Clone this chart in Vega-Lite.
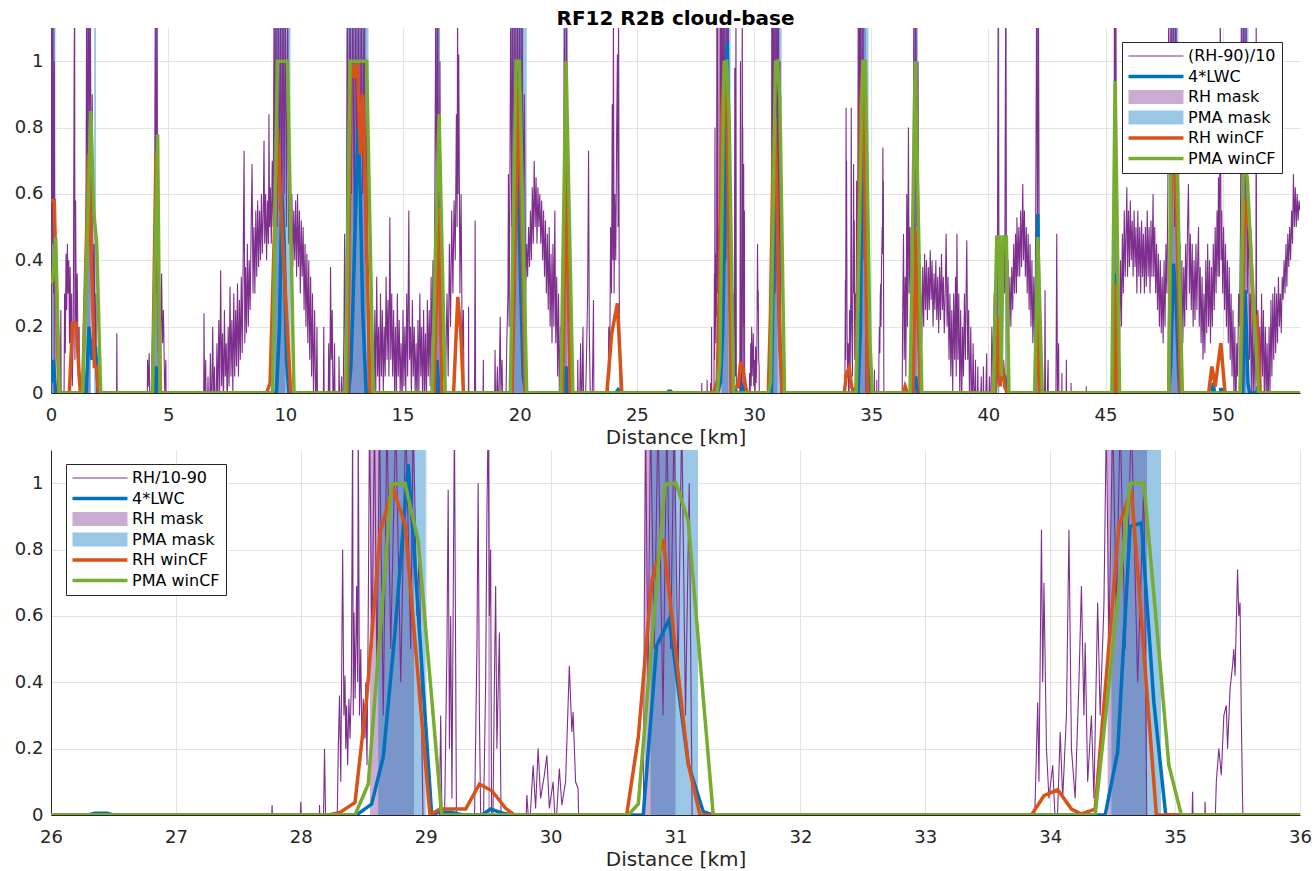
{
"$schema": "https://vega.github.io/schema/vega-lite/v6.json",
"background": "white",
"padding": {"left": 14, "top": 9, "right": 5, "bottom": 1},
"spacing": 3,
"config": {
  "font": "DejaVu Sans",
  "view": {"stroke": null},
  "axis": {"labelFont": "DejaVu Sans", "labelFontSize": 18, "labelColor": "#262626", "titleFont": "DejaVu Sans", "titleFontSize": 20, "titleFontWeight": "normal", "titleColor": "#262626", "domainColor": "#262626", "tickColor": "#262626", "ticks": false, "gridColor": "#e3e3e3", "labelOverlap": false, "labelFlush": false, "titlePadding": 3},
  "legend": {"labelFont": "DejaVu Sans", "labelFontSize": 16, "labelColor": "#000000", "padding": 6, "strokeColor": "#262626", "fillColor": "#ffffff", "labelLimit": 400, "symbolSize": 225, "labelOffset": 44, "rowPadding": 4.5, "symbolStrokeWidth": 0,
    "symbolType": {"expr": "indexof(datum.value,'mask') >= 0 ? 'M-1,-0.93H6.33V0.93H-1Z' : indexof(datum.value,'90') >= 0 ? 'M-1,-0.07H6.33V0.07H-1Z' : 'M-1,-0.24H6.33V0.24H-1Z'"}
  }
},
"resolve": {"scale": {"color": "independent", "x": "independent"}, "legend": {"color": "independent"}},
"datasets": {
"rh": [
{"x":0,"v":0.32},{"x":0.02,"v":1.2},{"x":0.05,"v":0.45},{"x":0.08,"v":1.2},{"x":0.11,"v":0.3},{"x":0.14,"v":1.0},{"x":0.17,"v":0.1},{"x":0.2,"v":-0.3},
{"x":0.38,"v":-0.3},{"x":0.42,"v":0.25},{"x":0.45,"v":-0.3},
{"x":0.55,"v":-0.1},{"x":0.58,"v":0.3},{"x":0.61,"v":0.12},{"x":0.64,"v":0.42},{"x":0.67,"v":0.25},{"x":0.7,"v":0.45},{"x":0.73,"v":0.3},{"x":0.76,"v":0.4},{"x":0.79,"v":0.15},{"x":0.82,"v":0.38},{"x":0.85,"v":0.05},{"x":0.88,"v":0.3},{"x":0.91,"v":0.02},{"x":0.95,"v":0.2},{"x":0.99,"v":1.02},{"x":1.01,"v":1.2},{"x":1.02,"v":0.1},{"x":1.05,"v":0.58},{"x":1.08,"v":0.18},{"x":1.12,"v":0.36},{"x":1.16,"v":0.05},{"x":1.2,"v":0.2},{"x":1.24,"v":-0.3},
{"x":1.4,"v":-0.3},{"x":1.44,"v":0.4},{"x":1.48,"v":0.2},{"x":1.52,"v":1.2},{"x":1.56,"v":0.6},{"x":1.6,"v":1.2},{"x":1.64,"v":0.8},{"x":1.68,"v":1.2},{"x":1.72,"v":0.5},{"x":1.76,"v":0.9},{"x":1.8,"v":0.2},{"x":1.84,"v":0.45},{"x":1.88,"v":0.1},{"x":1.92,"v":0.3},{"x":1.96,"v":-0.3},
{"x":2.78,"v":-0.3},{"x":2.81,"v":0.18},{"x":2.84,"v":-0.3},
{"x":4.08,"v":-0.3},{"x":4.12,"v":0.1},{"x":4.15,"v":0.02},{"x":4.19,"v":0.12},{"x":4.23,"v":-0.1},{"x":4.3,"v":-0.3},{"x":4.36,"v":0.2},{"x":4.4,"v":0.05},{"x":4.45,"v":1.2},{"x":4.48,"v":0.3},{"x":4.52,"v":1.2},{"x":4.56,"v":0.2},{"x":4.6,"v":0.0},{"x":4.64,"v":0.3},{"x":4.68,"v":0.1},{"x":4.72,"v":0.36},{"x":4.76,"v":0.15},{"x":4.8,"v":0.25},{"x":4.85,"v":0.0},{"x":4.9,"v":0.1},{"x":4.95,"v":-0.3},
{"x":6.5,"v":-0.3},{"x":6.53,"v":0.24},{"x":6.56,"v":-0.1},{"x":6.6,"v":0.1},{"x":6.64,"v":-0.2},{"x":6.7,"v":0.05},{"x":6.75,"v":-0.2},{"x":6.8,"v":0.12},{"x":6.85,"v":-0.1},{"x":6.9,"v":0.2},{"x":6.94,"v":-0.05},{"x":6.98,"v":0.08},{"x":7.02,"v":-0.2},{"x":7.08,"v":0.15},{"x":7.12,"v":-0.05},{"x":7.16,"v":0.22},{"x":7.2,"v":0.0},{"x":7.24,"v":0.37},{"x":7.28,"v":0.02},{"x":7.32,"v":0.18},{"x":7.36,"v":-0.05},{"x":7.4,"v":0.25},{"x":7.44,"v":0.05},{"x":7.48,"v":0.15},{"x":7.52,"v":-0.05},{"x":7.56,"v":0.2},{"x":7.6,"v":0.02},{"x":7.64,"v":0.32},{"x":7.68,"v":0.05},{"x":7.72,"v":0.22},{"x":7.76,"v":0.0},{"x":7.8,"v":0.3},{"x":7.84,"v":0.05},{"x":7.88,"v":0.25},{"x":7.92,"v":0.08},{"x":7.96,"v":0.33},{"x":8.0,"v":0.05},{"x":8.04,"v":0.28},{"x":8.08,"v":0.1},{"x":8.12,"v":0.35},{"x":8.16,"v":0.12},{"x":8.2,"v":0.4},{"x":8.24,"v":0.73},{"x":8.27,"v":0.15},{"x":8.3,"v":0.38},{"x":8.34,"v":0.18},{"x":8.38,"v":0.45},{"x":8.42,"v":0.2},{"x":8.46,"v":0.4},{"x":8.5,"v":0.25},{"x":8.54,"v":0.5},{"x":8.58,"v":0.69},{"x":8.62,"v":0.3},{"x":8.66,"v":0.5},{"x":8.7,"v":0.3},{"x":8.74,"v":0.55},{"x":8.78,"v":0.35},{"x":8.82,"v":0.58},{"x":8.86,"v":0.38},{"x":8.9,"v":0.55},{"x":8.94,"v":0.4},{"x":8.98,"v":0.6},{"x":9.02,"v":0.42},{"x":9.06,"v":0.55},{"x":9.09,"v":0.76},{"x":9.12,"v":0.45},{"x":9.16,"v":0.6},{"x":9.2,"v":0.4},{"x":9.24,"v":0.58},{"x":9.28,"v":0.45},{"x":9.3,"v":0.84},{"x":9.33,"v":0.5},{"x":9.36,"v":0.62},{"x":9.4,"v":0.45},{"x":9.44,"v":0.7},{"x":9.48,"v":0.5},{"x":9.52,"v":1.2},{"x":9.56,"v":0.6},{"x":9.6,"v":1.2},{"x":9.65,"v":0.5},{"x":9.7,"v":1.2},{"x":9.75,"v":0.55},{"x":9.8,"v":1.2},{"x":9.85,"v":0.5},{"x":9.9,"v":1.2},{"x":9.95,"v":0.6},{"x":10.0,"v":1.2},{"x":10.05,"v":0.5},{"x":10.1,"v":1.2},{"x":10.15,"v":0.45},{"x":10.2,"v":0.65},{"x":10.24,"v":0.4},{"x":10.28,"v":0.6},{"x":10.32,"v":0.38},{"x":10.36,"v":0.55},{"x":10.4,"v":0.4},{"x":10.44,"v":0.58},{"x":10.48,"v":0.35},{"x":10.52,"v":0.6},{"x":10.56,"v":0.38},{"x":10.6,"v":0.55},{"x":10.64,"v":0.3},{"x":10.68,"v":0.52},{"x":10.72,"v":0.35},{"x":10.76,"v":0.5},{"x":10.8,"v":0.25},{"x":10.84,"v":0.45},{"x":10.88,"v":0.2},{"x":10.92,"v":0.42},{"x":10.96,"v":0.15},{"x":11.0,"v":0.4},{"x":11.04,"v":0.1},{"x":11.08,"v":0.35},{"x":11.12,"v":0.05},{"x":11.16,"v":0.3},{"x":11.2,"v":0.0},{"x":11.25,"v":0.25},{"x":11.3,"v":-0.1},{"x":11.35,"v":0.2},{"x":11.4,"v":-0.3},
{"x":11.6,"v":-0.3},{"x":11.64,"v":0.2},{"x":11.68,"v":-0.3},{"x":11.8,"v":-0.3},{"x":11.85,"v":0.15},{"x":11.89,"v":-0.1},{"x":11.93,"v":0.38},{"x":11.96,"v":0.1},{"x":12.0,"v":0.25},{"x":12.04,"v":-0.1},{"x":12.1,"v":0.15},{"x":12.15,"v":-0.3},{"x":12.26,"v":-0.3},{"x":12.29,"v":0.11},{"x":12.33,"v":-0.1},{"x":12.4,"v":0.05},{"x":12.45,"v":-0.1},{"x":12.5,"v":0.18},{"x":12.53,"v":0.48},{"x":12.56,"v":0.1},{"x":12.6,"v":0.3},{"x":12.64,"v":1.2},{"x":12.7,"v":0.5},{"x":12.76,"v":1.2},{"x":12.82,"v":0.6},{"x":12.88,"v":1.2},{"x":12.94,"v":0.5},{"x":13.0,"v":1.2},{"x":13.06,"v":0.6},{"x":13.12,"v":1.2},{"x":13.18,"v":0.5},{"x":13.24,"v":1.2},{"x":13.3,"v":0.6},{"x":13.36,"v":1.2},{"x":13.42,"v":0.4},{"x":13.48,"v":1.0},{"x":13.52,"v":0.2},{"x":13.56,"v":-0.3},
{"x":13.7,"v":-0.3},{"x":13.74,"v":0.15},{"x":13.78,"v":-0.1},{"x":13.82,"v":0.25},{"x":13.86,"v":0.0},{"x":13.9,"v":0.35},{"x":13.94,"v":0.05},{"x":13.98,"v":0.2},{"x":14.02,"v":-0.05},{"x":14.06,"v":0.3},{"x":14.1,"v":0.05},{"x":14.14,"v":0.25},{"x":14.18,"v":0.0},{"x":14.22,"v":0.2},{"x":14.26,"v":0.05},{"x":14.3,"v":0.35},{"x":14.34,"v":0.1},{"x":14.38,"v":0.28},{"x":14.42,"v":0.05},{"x":14.46,"v":0.53},{"x":14.5,"v":0.1},{"x":14.54,"v":0.3},{"x":14.58,"v":0.05},{"x":14.62,"v":0.25},{"x":14.66,"v":0.0},{"x":14.7,"v":0.2},{"x":14.74,"v":-0.05},{"x":14.78,"v":0.3},{"x":14.82,"v":0.05},{"x":14.86,"v":0.22},{"x":14.9,"v":0.0},{"x":14.94,"v":0.15},{"x":14.98,"v":-0.05},{"x":15.02,"v":0.25},{"x":15.06,"v":0.02},{"x":15.1,"v":0.2},{"x":15.14,"v":0.0},{"x":15.18,"v":0.3},{"x":15.22,"v":0.05},{"x":15.27,"v":0.55},{"x":15.3,"v":0.1},{"x":15.34,"v":0.2},{"x":15.38,"v":0.0},{"x":15.42,"v":0.28},{"x":15.46,"v":0.05},{"x":15.5,"v":0.2},{"x":15.54,"v":0.0},{"x":15.58,"v":0.15},{"x":15.62,"v":-0.05},{"x":15.66,"v":0.22},{"x":15.7,"v":0.0},{"x":15.74,"v":0.3},{"x":15.78,"v":0.05},{"x":15.82,"v":0.2},{"x":15.86,"v":-0.05},{"x":15.9,"v":0.25},{"x":15.94,"v":0.0},{"x":15.98,"v":0.18},{"x":16.02,"v":-0.05},{"x":16.06,"v":0.28},{"x":16.1,"v":0.05},{"x":16.14,"v":0.25},{"x":16.18,"v":0.02},{"x":16.22,"v":0.35},{"x":16.26,"v":0.1},{"x":16.3,"v":0.4},{"x":16.34,"v":0.2},{"x":16.38,"v":0.6},{"x":16.42,"v":1.2},{"x":16.46,"v":0.4},{"x":16.5,"v":1.2},{"x":16.55,"v":0.3},{"x":16.6,"v":1.0},{"x":16.64,"v":0.1},{"x":16.68,"v":-0.3},
{"x":16.8,"v":-0.3},{"x":16.85,"v":0.1},{"x":16.9,"v":0.3},{"x":16.95,"v":0.05},{"x":17.0,"v":0.45},{"x":17.05,"v":0.2},{"x":17.1,"v":0.55},{"x":17.15,"v":0.3},{"x":17.2,"v":0.58},{"x":17.25,"v":0.4},{"x":17.3,"v":0.84},{"x":17.33,"v":0.5},{"x":17.35,"v":1.2},{"x":17.37,"v":0.6},{"x":17.4,"v":1.02},{"x":17.45,"v":0.3},{"x":17.5,"v":0.6},{"x":17.55,"v":0.1},{"x":17.6,"v":0.25},{"x":17.65,"v":-0.3},
{"x":17.8,"v":-0.3},{"x":17.82,"v":0.26},{"x":17.84,"v":-0.3},{"x":18.06,"v":-0.3},{"x":18.1,"v":0.52},{"x":18.13,"v":-0.3},{"x":18.4,"v":-0.3},{"x":18.45,"v":0.1},{"x":18.48,"v":-0.3},{"x":18.9,"v":-0.3},{"x":18.95,"v":0.13},{"x":18.98,"v":-0.1},{"x":19.05,"v":0.08},{"x":19.1,"v":-0.1},{"x":19.17,"v":0.23},{"x":19.2,"v":0.0},{"x":19.25,"v":0.1},{"x":19.3,"v":-0.2},{"x":19.4,"v":-0.1},{"x":19.45,"v":0.15},{"x":19.5,"v":0.3},{"x":19.52,"v":0.66},{"x":19.55,"v":0.2},{"x":19.58,"v":0.6},{"x":19.62,"v":1.2},{"x":19.66,"v":0.5},{"x":19.7,"v":1.2},{"x":19.75,"v":0.6},{"x":19.8,"v":1.2},{"x":19.85,"v":0.5},{"x":19.9,"v":1.2},{"x":19.95,"v":0.6},{"x":20.0,"v":1.2},{"x":20.05,"v":0.5},{"x":20.1,"v":1.2},{"x":20.15,"v":0.55},{"x":20.2,"v":0.9},{"x":20.25,"v":0.3},{"x":20.3,"v":0.45},{"x":20.34,"v":0.35},{"x":20.38,"v":0.5},{"x":20.42,"v":0.38},{"x":20.46,"v":0.55},{"x":20.5,"v":0.4},{"x":20.54,"v":0.62},{"x":20.58,"v":0.45},{"x":20.62,"v":0.7},{"x":20.66,"v":0.5},{"x":20.7,"v":0.65},{"x":20.74,"v":0.45},{"x":20.78,"v":0.62},{"x":20.82,"v":0.5},{"x":20.86,"v":0.6},{"x":20.9,"v":0.45},{"x":20.94,"v":0.58},{"x":20.98,"v":0.4},{"x":21.02,"v":0.55},{"x":21.06,"v":0.35},{"x":21.1,"v":0.52},{"x":21.14,"v":0.3},{"x":21.18,"v":0.48},{"x":21.22,"v":0.25},{"x":21.26,"v":0.5},{"x":21.3,"v":0.2},{"x":21.34,"v":0.42},{"x":21.38,"v":0.15},{"x":21.42,"v":0.45},{"x":21.46,"v":0.2},{"x":21.5,"v":0.55},{"x":21.54,"v":0.15},{"x":21.58,"v":0.35},{"x":21.62,"v":0.05},{"x":21.66,"v":0.3},{"x":21.7,"v":-0.05},{"x":21.74,"v":0.2},{"x":21.78,"v":0.0},{"x":21.82,"v":0.4},{"x":21.86,"v":0.1},{"x":21.9,"v":1.2},{"x":21.95,"v":0.4},{"x":22.0,"v":1.2},{"x":22.04,"v":0.3},{"x":22.08,"v":0.2},{"x":22.12,"v":-0.3},
{"x":22.45,"v":-0.3},{"x":22.48,"v":0.1},{"x":22.52,"v":-0.2},{"x":22.6,"v":0.15},{"x":22.64,"v":-0.1},{"x":22.7,"v":0.2},{"x":22.75,"v":-0.2},{"x":22.85,"v":0.1},{"x":22.9,"v":0.3},{"x":22.94,"v":0.73},{"x":22.97,"v":0.2},{"x":23.0,"v":0.05},{"x":23.05,"v":-0.2},{"x":23.12,"v":0.1},{"x":23.15,"v":0.28},{"x":23.18,"v":-0.3},
{"x":23.75,"v":-0.3},{"x":23.8,"v":0.2},{"x":23.84,"v":0.05},{"x":23.88,"v":0.5},{"x":23.92,"v":0.3},{"x":23.95,"v":0.87},{"x":23.98,"v":0.4},{"x":24.0,"v":1.2},{"x":24.03,"v":0.3},{"x":24.06,"v":0.6},{"x":24.1,"v":0.4},{"x":24.14,"v":0.8},{"x":24.17,"v":1.02},{"x":24.2,"v":0.5},{"x":24.22,"v":1.2},{"x":24.25,"v":0.3},{"x":24.28,"v":0.1},{"x":24.32,"v":-0.3},
{"x":27.74,"v":-0.3},{"x":27.77,"v":0.03},{"x":27.8,"v":-0.3},{"x":27.97,"v":-0.3},{"x":28.0,"v":0.04},{"x":28.03,"v":-0.3},{"x":28.13,"v":-0.3},{"x":28.15,"v":0.03},{"x":28.17,"v":-0.3},{"x":28.19,"v":0.2},{"x":28.21,"v":-0.3},
{"x":28.28,"v":-0.3},{"x":28.3,"v":0.2},{"x":28.31,"v":0.36},{"x":28.32,"v":0.1},{"x":28.335,"v":0.8},{"x":28.345,"v":0.3},{"x":28.354,"v":0.42},{"x":28.36,"v":0.2},{"x":28.367,"v":0.33},{"x":28.375,"v":0.15},{"x":28.385,"v":0.35},{"x":28.394,"v":0.23},{"x":28.405,"v":0.4},{"x":28.415,"v":1.2},{"x":28.42,"v":0.3},{"x":28.426,"v":0.61},{"x":28.435,"v":0.35},{"x":28.447,"v":0.69},{"x":28.455,"v":0.4},{"x":28.46,"v":1.2},{"x":28.47,"v":0.3},{"x":28.48,"v":0.5},{"x":28.49,"v":0.2},{"x":28.5,"v":0.35},{"x":28.514,"v":0.23},{"x":28.52,"v":0.4},{"x":28.53,"v":0.15},{"x":28.54,"v":0.6},{"x":28.55,"v":1.2},{"x":28.57,"v":0.5},{"x":28.59,"v":1.2},{"x":28.61,"v":0.4},{"x":28.63,"v":1.2},{"x":28.66,"v":0.3},{"x":28.69,"v":1.2},{"x":28.72,"v":0.5},{"x":28.76,"v":1.2},{"x":28.8,"v":0.4},{"x":28.84,"v":1.2},{"x":28.88,"v":0.5},{"x":28.9,"v":1.2},{"x":28.93,"v":0.6},{"x":28.95,"v":0.8},{"x":28.97,"v":0.2},{"x":28.99,"v":-0.3},
{"x":29.1,"v":-0.3},{"x":29.12,"v":0.3},{"x":29.14,"v":-0.3},{"x":29.17,"v":0.5},{"x":29.18,"v":0.98},{"x":29.19,"v":0.2},{"x":29.2,"v":0.6},{"x":29.21,"v":0.05},{"x":29.23,"v":1.2},{"x":29.25,"v":-0.3},
{"x":29.38,"v":-0.3},{"x":29.41,"v":0.5},{"x":29.42,"v":1.0},{"x":29.43,"v":0.3},{"x":29.45,"v":-0.3},{"x":29.48,"v":0.4},{"x":29.49,"v":0.9},{"x":29.5,"v":1.2},{"x":29.51,"v":0.6},{"x":29.52,"v":0.8},{"x":29.53,"v":-0.3},{"x":29.55,"v":0.4},{"x":29.56,"v":0.69},{"x":29.57,"v":0.2},{"x":29.59,"v":0.55},{"x":29.61,"v":-0.3},
{"x":29.78,"v":-0.3},{"x":29.81,"v":0.06},{"x":29.83,"v":-0.05},{"x":29.86,"v":0.15},{"x":29.88,"v":0.02},{"x":29.9,"v":0.2},{"x":29.92,"v":0.05},{"x":29.95,"v":0.12},{"x":29.97,"v":0.18},{"x":29.99,"v":0.02},{"x":30.02,"v":0.1},{"x":30.04,"v":-0.05},{"x":30.07,"v":0.14},{"x":30.09,"v":0.03},{"x":30.12,"v":0.1},{"x":30.15,"v":0.45},{"x":30.17,"v":0.25},{"x":30.18,"v":0.31},{"x":30.2,"v":0.1},{"x":30.22,"v":0.08},{"x":30.24,"v":-0.3},
{"x":30.74,"v":-0.3},{"x":30.75,"v":0.6},{"x":30.76,"v":1.2},{"x":30.78,"v":0.4},{"x":30.8,"v":1.2},{"x":30.83,"v":0.5},{"x":30.86,"v":1.2},{"x":30.9,"v":0.3},{"x":30.93,"v":1.2},{"x":30.96,"v":0.5},{"x":30.99,"v":1.2},{"x":31.02,"v":0.4},{"x":31.05,"v":1.2},{"x":31.08,"v":0.3},{"x":31.11,"v":1.0},{"x":31.14,"v":-0.3},
{"x":33.85,"v":-0.3},{"x":33.88,"v":0.05},{"x":33.9,"v":0.34},{"x":33.91,"v":0.1},{"x":33.93,"v":0.86},{"x":33.94,"v":0.4},{"x":33.95,"v":0.7},{"x":33.97,"v":0.2},{"x":33.99,"v":0.05},{"x":34.02,"v":0.15},{"x":34.05,"v":-0.1},{"x":34.08,"v":0.25},{"x":34.1,"v":0.05},{"x":34.13,"v":0.3},{"x":34.15,"v":0.86},{"x":34.17,"v":0.2},{"x":34.2,"v":0.05},{"x":34.23,"v":0.4},{"x":34.25,"v":0.69},{"x":34.27,"v":0.3},{"x":34.28,"v":0.52},{"x":34.3,"v":0.1},{"x":34.33,"v":0.3},{"x":34.35,"v":0.05},{"x":34.38,"v":0.64},{"x":34.4,"v":0.3},{"x":34.43,"v":0.63},{"x":34.45,"v":1.2},{"x":34.47,"v":0.5},{"x":34.5,"v":1.2},{"x":34.53,"v":0.6},{"x":34.56,"v":1.2},{"x":34.6,"v":0.5},{"x":34.65,"v":1.2},{"x":34.7,"v":0.4},{"x":34.75,"v":1.0},{"x":34.78,"v":-0.3},
{"x":35.12,"v":-0.3},{"x":35.14,"v":0.07},{"x":35.16,"v":-0.3},{"x":35.22,"v":-0.3},{"x":35.24,"v":0.04},{"x":35.26,"v":-0.3},
{"x":35.3,"v":-0.3},{"x":35.33,"v":0.1},{"x":35.35,"v":0.2},{"x":35.37,"v":0.12},{"x":35.39,"v":0.3},{"x":35.41,"v":0.33},{"x":35.42,"v":0.2},{"x":35.44,"v":0.38},{"x":35.46,"v":0.45},{"x":35.47,"v":0.5},{"x":35.48,"v":0.42},{"x":35.5,"v":0.74},{"x":35.51,"v":0.6},{"x":35.52,"v":0.64},{"x":35.53,"v":0.3},{"x":35.54,"v":0.05},{"x":35.56,"v":-0.3},
{"x":36.3,"v":-0.3},{"x":36.34,"v":0.2},{"x":36.38,"v":0.48},{"x":36.41,"v":0.1},{"x":36.45,"v":0.35},{"x":36.48,"v":0.05},{"x":36.52,"v":0.6},{"x":36.55,"v":0.2},{"x":36.59,"v":0.8},{"x":36.62,"v":0.3},{"x":36.66,"v":0.5},{"x":36.7,"v":0.15},{"x":36.74,"v":0.45},{"x":36.78,"v":0.3},{"x":36.82,"v":1.2},{"x":36.86,"v":0.4},{"x":36.9,"v":1.2},{"x":36.95,"v":0.5},{"x":37.0,"v":1.0},{"x":37.04,"v":0.2},{"x":37.08,"v":0.15},
{"x":37.12,"v":0.3},{"x":37.16,"v":0.15},{"x":37.2,"v":0.38},{"x":37.24,"v":0.2},{"x":37.28,"v":0.42},{"x":37.32,"v":0.25},{"x":37.36,"v":0.4},{"x":37.4,"v":0.22},{"x":37.44,"v":0.38},{"x":37.48,"v":0.25},{"x":37.52,"v":0.43},{"x":37.56,"v":0.28},{"x":37.6,"v":0.4},{"x":37.64,"v":0.2},{"x":37.68,"v":0.36},{"x":37.72,"v":0.25},{"x":37.76,"v":0.4},{"x":37.8,"v":0.22},{"x":37.84,"v":0.35},{"x":37.88,"v":0.18},{"x":37.92,"v":0.38},{"x":37.96,"v":0.22},{"x":38.0,"v":0.42},{"x":38.04,"v":0.25},{"x":38.08,"v":0.35},{"x":38.12,"v":0.18},{"x":38.16,"v":0.3},{"x":38.2,"v":0.48},{"x":38.24,"v":0.2},{"x":38.28,"v":0.35},{"x":38.32,"v":0.1},{"x":38.36,"v":0.3},{"x":38.4,"v":0.05},{"x":38.44,"v":0.25},{"x":38.48,"v":0.0},{"x":38.52,"v":0.3},{"x":38.56,"v":0.1},{"x":38.6,"v":0.35},{"x":38.63,"v":0.05},{"x":38.66,"v":0.48},{"x":38.7,"v":0.1},{"x":38.74,"v":0.3},{"x":38.78,"v":0.0},{"x":38.82,"v":0.25},{"x":38.86,"v":-0.05},{"x":38.9,"v":0.2},{"x":38.94,"v":0.05},{"x":38.98,"v":0.3},{"x":39.02,"v":0.1},{"x":39.06,"v":0.35},{"x":39.08,"v":0.46},{"x":39.12,"v":0.1},{"x":39.16,"v":0.25},{"x":39.2,"v":-0.05},{"x":39.25,"v":0.2},{"x":39.3,"v":-0.1},{"x":39.35,"v":0.15},{"x":39.4,"v":-0.1},{"x":39.45,"v":0.1},{"x":39.5,"v":-0.2},{"x":39.55,"v":0.08},{"x":39.6,"v":-0.2},{"x":39.7,"v":0.05},{"x":39.75,"v":-0.2},{"x":39.79,"v":0.08},{"x":39.83,"v":-0.2},{"x":39.93,"v":0.12},{"x":39.97,"v":-0.2},{"x":40.05,"v":0.05},{"x":40.1,"v":-0.1},{"x":40.15,"v":0.2},{"x":40.2,"v":0.05},{"x":40.25,"v":0.3},{"x":40.3,"v":0.15},{"x":40.35,"v":0.4},{"x":40.38,"v":0.2},{"x":40.42,"v":1.2},{"x":40.45,"v":0.4},{"x":40.5,"v":0.3},{"x":40.55,"v":0.45},{"x":40.6,"v":0.3},{"x":40.65,"v":0.45},{"x":40.7,"v":0.3},{"x":40.74,"v":1.2},{"x":40.77,"v":0.4},{"x":40.8,"v":0.25},{"x":40.84,"v":0.4},{"x":40.88,"v":0.2},{"x":40.92,"v":0.35},{"x":40.96,"v":0.2},{"x":41.0,"v":0.38},{"x":41.04,"v":0.25},{"x":41.08,"v":0.45},{"x":41.12,"v":0.3},{"x":41.16,"v":0.48},{"x":41.2,"v":0.3},{"x":41.22,"v":0.53},{"x":41.26,"v":0.35},{"x":41.3,"v":0.5},{"x":41.34,"v":0.35},{"x":41.38,"v":0.55},{"x":41.42,"v":0.38},{"x":41.47,"v":0.63},{"x":41.5,"v":0.4},{"x":41.54,"v":0.55},{"x":41.58,"v":0.35},{"x":41.62,"v":0.5},{"x":41.66,"v":0.3},{"x":41.7,"v":0.48},{"x":41.74,"v":0.25},{"x":41.78,"v":0.45},{"x":41.82,"v":0.2},{"x":41.86,"v":0.4},{"x":41.9,"v":0.15},{"x":41.94,"v":0.35},{"x":41.98,"v":0.1},{"x":42.02,"v":0.5},{"x":42.06,"v":1.2},{"x":42.1,"v":0.5},{"x":42.14,"v":1.2},{"x":42.18,"v":0.2},{"x":42.22,"v":0.1},{"x":42.26,"v":-0.3},
{"x":42.38,"v":-0.3},{"x":42.42,"v":0.31},{"x":42.45,"v":-0.2},{"x":42.55,"v":0.1},{"x":42.58,"v":-0.3},{"x":42.86,"v":-0.3},{"x":42.9,"v":0.2},{"x":42.92,"v":0.48},{"x":42.95,"v":0.0},{"x":43.0,"v":0.15},{"x":43.03,"v":-0.3},{"x":43.1,"v":-0.3},{"x":43.14,"v":0.06},{"x":43.17,"v":-0.3},{"x":43.3,"v":-0.3},{"x":43.33,"v":0.1},{"x":43.36,"v":-0.3},{"x":43.5,"v":-0.3},{"x":43.53,"v":0.03},{"x":43.56,"v":-0.3},{"x":44.15,"v":-0.3},{"x":44.18,"v":0.02},{"x":44.21,"v":-0.3},
{"x":45.33,"v":-0.3},{"x":45.36,"v":0.3},{"x":45.38,"v":1.2},{"x":45.41,"v":0.5},{"x":45.44,"v":1.2},{"x":45.47,"v":0.3},{"x":45.5,"v":0.1},{"x":45.55,"v":0.3},{"x":45.6,"v":0.15},{"x":45.64,"v":0.4},{"x":45.68,"v":0.2},{"x":45.72,"v":0.48},{"x":45.76,"v":0.3},{"x":45.8,"v":0.55},{"x":45.84,"v":0.35},{"x":45.88,"v":0.5},{"x":45.91,"v":0.62},{"x":45.94,"v":0.35},{"x":45.98,"v":0.55},{"x":46.02,"v":0.38},{"x":46.06,"v":0.58},{"x":46.1,"v":0.4},{"x":46.14,"v":0.52},{"x":46.18,"v":0.35},{"x":46.22,"v":0.55},{"x":46.26,"v":0.38},{"x":46.3,"v":0.5},{"x":46.34,"v":0.3},{"x":46.38,"v":0.55},{"x":46.42,"v":0.35},{"x":46.46,"v":0.5},{"x":46.5,"v":0.3},{"x":46.54,"v":0.52},{"x":46.58,"v":0.35},{"x":46.62,"v":0.48},{"x":46.66,"v":0.3},{"x":46.7,"v":0.5},{"x":46.74,"v":0.32},{"x":46.78,"v":0.55},{"x":46.82,"v":0.35},{"x":46.86,"v":0.5},{"x":46.9,"v":0.3},{"x":46.94,"v":0.52},{"x":46.98,"v":0.35},{"x":47.03,"v":0.6},{"x":47.06,"v":0.35},{"x":47.1,"v":0.5},{"x":47.14,"v":0.3},{"x":47.18,"v":0.45},{"x":47.22,"v":0.25},{"x":47.26,"v":0.42},{"x":47.3,"v":0.2},{"x":47.34,"v":0.4},{"x":47.38,"v":0.18},{"x":47.42,"v":0.35},{"x":47.46,"v":0.15},{"x":47.5,"v":0.4},{"x":47.54,"v":0.2},{"x":47.58,"v":0.45},{"x":47.62,"v":0.3},{"x":47.66,"v":0.6},{"x":47.7,"v":1.2},{"x":47.75,"v":0.5},{"x":47.8,"v":1.2},{"x":47.85,"v":0.6},{"x":47.9,"v":1.2},{"x":47.95,"v":0.5},{"x":48.0,"v":1.2},{"x":48.05,"v":0.45},{"x":48.1,"v":1.0},{"x":48.14,"v":0.3},
{"x":48.18,"v":0.45},{"x":48.22,"v":0.2},{"x":48.26,"v":0.4},{"x":48.3,"v":0.15},{"x":48.34,"v":0.38},{"x":48.38,"v":0.2},{"x":48.42,"v":0.45},{"x":48.46,"v":0.25},{"x":48.5,"v":0.5},{"x":48.54,"v":0.63},{"x":48.58,"v":0.3},{"x":48.62,"v":0.48},{"x":48.66,"v":0.25},{"x":48.7,"v":0.45},{"x":48.74,"v":0.2},{"x":48.78,"v":0.4},{"x":48.82,"v":0.22},{"x":48.86,"v":0.45},{"x":48.9,"v":0.25},{"x":48.94,"v":0.42},{"x":48.97,"v":0.5},{"x":49.0,"v":0.2},{"x":49.04,"v":0.38},{"x":49.08,"v":0.15},{"x":49.12,"v":0.35},{"x":49.16,"v":0.1},{"x":49.2,"v":0.3},{"x":49.24,"v":0.12},{"x":49.28,"v":0.4},{"x":49.32,"v":0.18},{"x":49.36,"v":0.45},{"x":49.4,"v":0.2},{"x":49.44,"v":0.4},{"x":49.48,"v":0.15},{"x":49.52,"v":0.38},{"x":49.56,"v":0.2},{"x":49.6,"v":0.45},{"x":49.64,"v":0.25},{"x":49.68,"v":0.5},{"x":49.72,"v":0.3},{"x":49.76,"v":0.55},{"x":49.8,"v":0.35},{"x":49.82,"v":0.65},{"x":49.86,"v":0.35},{"x":49.9,"v":1.2},{"x":49.93,"v":0.4},{"x":49.96,"v":0.55},{"x":50.0,"v":0.3},{"x":50.04,"v":0.5},{"x":50.08,"v":0.25},{"x":50.12,"v":0.45},{"x":50.16,"v":0.2},{"x":50.2,"v":0.4},{"x":50.24,"v":0.15},{"x":50.28,"v":0.38},{"x":50.32,"v":0.1},{"x":50.36,"v":0.3},{"x":50.4,"v":0.05},{"x":50.44,"v":0.25},{"x":50.48,"v":0.0},{"x":50.52,"v":0.2},{"x":50.56,"v":-0.1},{"x":50.6,"v":0.15},{"x":50.64,"v":0.05},{"x":50.68,"v":0.3},{"x":50.72,"v":0.2},{"x":50.76,"v":0.5},{"x":50.8,"v":1.2},{"x":50.85,"v":0.4},{"x":50.9,"v":1.2},{"x":50.95,"v":0.5},{"x":51.0,"v":1.2},{"x":51.05,"v":0.3},{"x":51.1,"v":0.6},{"x":51.14,"v":0.1},{"x":51.18,"v":0.3},{"x":51.22,"v":0.0},{"x":51.26,"v":0.25},{"x":51.3,"v":-0.05},{"x":51.34,"v":0.2},{"x":51.38,"v":0.0},{"x":51.42,"v":0.3},{"x":51.43,"v":1.2},{"x":51.45,"v":0.1},{"x":51.5,"v":0.25},{"x":51.54,"v":-0.05},{"x":51.58,"v":0.2},{"x":51.62,"v":0.0},{"x":51.66,"v":0.3},{"x":51.7,"v":0.05},{"x":51.74,"v":0.25},{"x":51.78,"v":-0.05},{"x":51.82,"v":0.2},{"x":51.86,"v":0.0},{"x":51.9,"v":0.15},{"x":51.94,"v":-0.1},{"x":51.98,"v":0.2},{"x":52.02,"v":0.0},{"x":52.06,"v":0.28},{"x":52.1,"v":0.05},{"x":52.14,"v":0.3},{"x":52.18,"v":0.1},{"x":52.22,"v":0.32},{"x":52.26,"v":0.12},{"x":52.3,"v":0.3},{"x":52.34,"v":0.15},{"x":52.38,"v":0.35},{"x":52.42,"v":0.2},{"x":52.46,"v":0.3},{"x":52.5,"v":0.18},{"x":52.54,"v":0.35},{"x":52.58,"v":0.28},{"x":52.62,"v":0.4},{"x":52.66,"v":0.3},{"x":52.7,"v":0.45},{"x":52.74,"v":0.32},{"x":52.78,"v":0.48},{"x":52.82,"v":0.38},{"x":52.86,"v":0.5},{"x":52.9,"v":0.4},{"x":52.94,"v":0.55},{"x":52.98,"v":0.45},{"x":53.02,"v":0.66},{"x":53.06,"v":0.5},{"x":53.1,"v":0.62},{"x":53.14,"v":0.5},{"x":53.18,"v":0.6},{"x":53.22,"v":0.52},{"x":53.26,"v":0.58},{"x":53.3,"v":0.55}
],
"lwc": [
{"x":0,"v":0.03},{"x":0.1,"v":0.1},{"x":0.2,"v":0},{"x":1.5,"v":0},{"x":1.62,"v":0.2},{"x":1.75,"v":0.1},{"x":1.9,"v":0.14},{"x":2.02,"v":0},{"x":4.43,"v":0},{"x":4.5,"v":0.08},{"x":4.58,"v":0},{"x":9.62,"v":0},{"x":9.75,"v":0.2},{"x":9.85,"v":0.6},{"x":9.95,"v":0.45},{"x":10.05,"v":0.1},{"x":10.15,"v":0},{"x":12.7,"v":0},{"x":12.8,"v":0.08},{"x":12.9,"v":0.3},{"x":13.0,"v":0.55},{"x":13.1,"v":0.8},{"x":13.2,"v":0.6},{"x":13.3,"v":0.25},{"x":13.45,"v":0},{"x":16.4,"v":0},{"x":16.48,"v":0.1},{"x":16.56,"v":0},{"x":19.65,"v":0},{"x":19.75,"v":0.3},{"x":19.85,"v":0.7},{"x":19.95,"v":0.6},{"x":20.05,"v":0.3},{"x":20.15,"v":0.05},{"x":20.25,"v":0},{"x":21.92,"v":0},{"x":21.98,"v":0.08},{"x":22.05,"v":0},{"x":24.1,"v":0},{"x":24.2,"v":0.01},{"x":24.3,"v":0},{"x":26.3,"v":0},{"x":26.35,"v":0.005},{"x":26.45,"v":0.005},{"x":26.5,"v":0},{"x":28.447,"v":0},{"x":28.567,"v":0.033},{"x":28.66,"v":0.174},{"x":28.754,"v":0.55},{"x":28.86,"v":1.057},{"x":28.9,"v":0.837},{"x":29.048,"v":0},{"x":29.1,"v":0.008},{"x":29.2,"v":0.008},{"x":29.3,"v":0},{"x":29.45,"v":0},{"x":29.52,"v":0.018},{"x":29.62,"v":0.005},{"x":29.7,"v":0},{"x":30.742,"v":0},{"x":30.849,"v":0.51},{"x":30.95,"v":0.59},{"x":31.102,"v":0.154},{"x":31.222,"v":0.01},{"x":31.3,"v":0},{"x":34.44,"v":0},{"x":34.54,"v":0.19},{"x":34.64,"v":0.87},{"x":34.73,"v":0.88},{"x":34.83,"v":0.34},{"x":34.925,"v":0},{"x":36.8,"v":0},{"x":36.9,"v":0.05},{"x":37.0,"v":0},{"x":40.3,"v":0},{"x":40.4,"v":0.12},{"x":40.5,"v":0.05},{"x":40.6,"v":0.05},{"x":40.7,"v":0.05},{"x":40.8,"v":0},{"x":42.0,"v":0},{"x":42.11,"v":0.54},{"x":42.2,"v":0},{"x":45.35,"v":0},{"x":45.42,"v":0.36},{"x":45.5,"v":0},{"x":47.7,"v":0},{"x":47.78,"v":0.08},{"x":47.9,"v":0.39},{"x":48.0,"v":0.3},{"x":48.15,"v":0},{"x":49.55,"v":0},{"x":49.6,"v":0.03},{"x":49.65,"v":0},{"x":49.9,"v":0},{"x":49.93,"v":0.015},{"x":49.97,"v":0},{"x":50.85,"v":0},{"x":50.96,"v":0.31},{"x":51.08,"v":0.03},{"x":51.15,"v":0},{"x":51.45,"v":0},{"x":51.5,"v":0.02},{"x":51.55,"v":0},{"x":53.3,"v":0}
],
"rcf": [
{"x":0,"v":0.58},{"x":0.14,"v":0.58},{"x":0.33,"v":0},{"x":0.78,"v":0},{"x":0.92,"v":0.21},{"x":1.07,"v":0.21},{"x":1.25,"v":0},{"x":1.35,"v":0},{"x":1.6,"v":0.72},{"x":1.72,"v":0.4},{"x":1.85,"v":0.08},{"x":1.95,"v":0.08},{"x":2.02,"v":0},{"x":4.33,"v":0},{"x":4.48,"v":0.73},{"x":4.67,"v":0},{"x":9.2,"v":0},{"x":9.35,"v":0.03},{"x":9.66,"v":0.8},{"x":9.87,"v":0.48},{"x":10.23,"v":0},{"x":12.65,"v":0},{"x":12.8,"v":1.0},{"x":12.95,"v":0.95},{"x":13.08,"v":1.0},{"x":13.2,"v":0.72},{"x":13.3,"v":0.9},{"x":13.42,"v":0.6},{"x":13.62,"v":0},{"x":16.35,"v":0},{"x":16.54,"v":0.56},{"x":16.68,"v":0},{"x":17.18,"v":0},{"x":17.36,"v":0.29},{"x":17.49,"v":0.18},{"x":17.6,"v":0},{"x":19.67,"v":0},{"x":19.95,"v":0.94},{"x":20.24,"v":0},{"x":21.84,"v":0},{"x":21.98,"v":0.72},{"x":22.15,"v":0},{"x":23.72,"v":0},{"x":23.93,"v":0.18},{"x":24.17,"v":0.27},{"x":24.36,"v":0},{"x":28.22,"v":0},{"x":28.314,"v":0.008},{"x":28.434,"v":0.038},{"x":28.528,"v":0.354},{"x":28.634,"v":0.85},{"x":28.736,"v":0.987},{"x":28.834,"v":0.876},{"x":29.034,"v":0},{"x":29.114,"v":0.018},{"x":29.32,"v":0.018},{"x":29.43,"v":0.093},{"x":29.53,"v":0.073},{"x":29.64,"v":0.02},{"x":29.71,"v":0},{"x":30.609,"v":0},{"x":30.702,"v":0.234},{"x":30.81,"v":0.706},{"x":30.902,"v":0.831},{"x":31.102,"v":0.154},{"x":31.196,"v":0},{"x":33.85,"v":0},{"x":33.95,"v":0.058},{"x":34.06,"v":0.076},{"x":34.17,"v":0.018},{"x":34.25,"v":0.003},{"x":34.36,"v":0.018},{"x":34.55,"v":0.87},{"x":34.65,"v":0.98},{"x":34.85,"v":0},{"x":36.38,"v":0},{"x":36.45,"v":0.02},{"x":36.55,"v":0},{"x":36.78,"v":0},{"x":36.92,"v":0.49},{"x":37.09,"v":0},{"x":40.29,"v":0},{"x":40.43,"v":0.23},{"x":40.5,"v":0.02},{"x":40.6,"v":0.1},{"x":40.7,"v":0.02},{"x":40.8,"v":0},{"x":42.0,"v":0},{"x":42.1,"v":0.24},{"x":42.2,"v":0},{"x":45.33,"v":0},{"x":45.41,"v":0.33},{"x":45.5,"v":0},{"x":47.7,"v":0},{"x":47.85,"v":0.9},{"x":48.05,"v":0.5},{"x":48.2,"v":0},{"x":49.4,"v":0},{"x":49.54,"v":0.08},{"x":49.68,"v":0.02},{"x":49.92,"v":0.15},{"x":50.1,"v":0},{"x":50.75,"v":0},{"x":50.96,"v":0.58},{"x":51.17,"v":0.48},{"x":51.31,"v":0.22},{"x":51.46,"v":0.23},{"x":51.6,"v":0},{"x":53.3,"v":0}
],
"pcf": [
{"x":0,"v":0.33},{"x":0.07,"v":0.34},{"x":0.2,"v":0.47},{"x":0.36,"v":0},{"x":1.35,"v":0},{"x":1.7,"v":0.85},{"x":1.82,"v":0.55},{"x":1.95,"v":0.45},{"x":2.12,"v":0},{"x":4.33,"v":0},{"x":4.55,"v":0.78},{"x":4.65,"v":0},{"x":9.45,"v":0},{"x":9.66,"v":1.0},{"x":10.09,"v":1.0},{"x":10.37,"v":0},{"x":12.57,"v":0},{"x":12.76,"v":1.0},{"x":13.47,"v":1.0},{"x":13.75,"v":0},{"x":16.26,"v":0},{"x":16.56,"v":0.84},{"x":16.82,"v":0},{"x":19.6,"v":0},{"x":19.85,"v":1.0},{"x":19.99,"v":1.0},{"x":20.3,"v":0},{"x":21.76,"v":0},{"x":21.98,"v":1.0},{"x":22.27,"v":0},{"x":28.434,"v":0},{"x":28.54,"v":0.093},{"x":28.727,"v":0.997},{"x":28.834,"v":1.0},{"x":28.94,"v":0.826},{"x":29.128,"v":0},{"x":30.622,"v":0},{"x":30.702,"v":0.033},{"x":30.916,"v":0.997},{"x":31.004,"v":1.0},{"x":31.102,"v":0.886},{"x":31.302,"v":0},{"x":34.36,"v":0},{"x":34.64,"v":1.0},{"x":34.75,"v":1.0},{"x":34.85,"v":0.58},{"x":34.95,"v":0.15},{"x":35.05,"v":0},{"x":36.66,"v":0},{"x":36.88,"v":1.0},{"x":37.16,"v":0},{"x":40.22,"v":0},{"x":40.36,"v":0.47},{"x":40.47,"v":0.47},{"x":40.55,"v":0.05},{"x":40.63,"v":0.47},{"x":40.77,"v":0.47},{"x":40.88,"v":0},{"x":41.98,"v":0},{"x":42.11,"v":0.47},{"x":42.3,"v":0},{"x":45.27,"v":0},{"x":45.41,"v":0.94},{"x":45.6,"v":0},{"x":47.7,"v":0},{"x":47.82,"v":1.0},{"x":47.95,"v":1.0},{"x":48.28,"v":0},{"x":50.75,"v":0},{"x":50.88,"v":0.68},{"x":51.05,"v":0.65},{"x":51.25,"v":0.36},{"x":51.53,"v":0},{"x":53.3,"v":0}
],
"mask": [
{"s":0.03,"e":0.17,"m":"RH"},{"s":1.52,"e":1.68,"m":"RH"},{"s":4.45,"e":4.55,"m":"RH"},{"s":9.52,"e":10.0,"m":"RH"},{"s":12.62,"e":13.45,"m":"RH"},{"s":16.42,"e":16.58,"m":"RH"},{"s":19.62,"e":20.15,"m":"RH"},{"s":21.92,"e":22.02,"m":"RH"},{"s":28.554,"e":28.906,"m":"RH"},{"s":29.5,"e":29.515,"m":"RH"},{"s":30.756,"e":31.0,"m":"RH"},{"s":34.46,"e":34.775,"m":"RH"},{"s":36.82,"e":36.97,"m":"RH"},{"s":40.42,"e":40.46,"m":"RH"},{"s":40.73,"e":40.77,"m":"RH"},{"s":42.07,"e":42.13,"m":"RH"},{"s":45.38,"e":45.45,"m":"RH"},{"s":47.76,"e":48.05,"m":"RH"},{"s":50.8,"e":51.0,"m":"RH"},
{"s":0.05,"e":0.19,"m":"PMA"},{"s":1.52,"e":1.7,"m":"PMA"},{"s":1.84,"e":1.92,"m":"PMA"},{"s":4.44,"e":4.56,"m":"PMA"},{"s":9.55,"e":10.22,"m":"PMA"},{"s":12.65,"e":13.55,"m":"PMA"},{"s":16.44,"e":16.6,"m":"PMA"},{"s":19.65,"e":20.3,"m":"PMA"},{"s":21.93,"e":22.06,"m":"PMA"},{"s":28.62,"e":29.0,"m":"PMA"},{"s":30.8,"e":31.18,"m":"PMA"},{"s":34.49,"e":34.887,"m":"PMA"},{"s":36.84,"e":36.98,"m":"PMA"},{"s":40.41,"e":40.46,"m":"PMA"},{"s":40.72,"e":40.77,"m":"PMA"},{"s":42.07,"e":42.14,"m":"PMA"},{"s":45.37,"e":45.47,"m":"PMA"},{"s":47.78,"e":48.11,"m":"PMA"},{"s":50.82,"e":51.1,"m":"PMA"},
{"s":0.05,"e":0.17,"m":"both"},{"s":1.52,"e":1.68,"m":"both"},{"s":4.45,"e":4.55,"m":"both"},{"s":9.55,"e":10.0,"m":"both"},{"s":12.65,"e":13.45,"m":"both"},{"s":16.44,"e":16.58,"m":"both"},{"s":19.65,"e":20.15,"m":"both"},{"s":21.93,"e":22.02,"m":"both"},{"s":28.62,"e":28.906,"m":"both"},{"s":30.8,"e":31.0,"m":"both"},{"s":34.49,"e":34.775,"m":"both"},{"s":36.84,"e":36.97,"m":"both"},{"s":40.42,"e":40.46,"m":"both"},{"s":40.73,"e":40.77,"m":"both"},{"s":42.07,"e":42.13,"m":"both"},{"s":45.38,"e":45.45,"m":"both"},{"s":47.78,"e":48.05,"m":"both"},{"s":50.82,"e":51.0,"m":"both"}
]
},
"vconcat": [
{
"width": 1249, "height": 365,
"title": {"text": "RF12 R2B cloud-base", "font": "DejaVu Sans", "fontSize": 20, "fontWeight": "bold", "color": "#000000", "anchor": "middle", "frame": "group", "offset": -1},
"layer": [
{"data": {"name": "mask"}, "transform": [{"filter": "datum.m === 'RH'"}], "mark": {"type": "rect", "clip": true},
 "encoding": {
  "x": {"field": "s", "type": "quantitative", "scale": {"domain": [0, 53.3], "nice": false, "zero": false}, "axis": {"title": "Distance [km]", "values": [0,5,10,15,20,25,30,35,40,45,50], "labelPadding": 13, "grid": true}}, "x2": {"field": "e"},
  "y": {"datum": 0, "type": "quantitative", "scale": {"domain": [0, 1.1], "nice": false, "zero": false}, "axis": {"title": null, "values": [0,0.2,0.4,0.6,0.8,1], "format": "~g", "labelPadding": 8, "grid": true}}, "y2": {"datum": 1.1},
  "color": {"datum": "RH mask", "type": "nominal",
    "scale": {"domain": ["(RH-90)/10","4*LWC","RH mask","PMA mask","RH winCF","PMA winCF"], "range": ["#7E2F8E","#0072BD","#CBACD2","#99C7E5","#D95319","#77AC30"]},
    "legend": {"orient": "none", "legendX": 1071, "legendY": 14, "title": null}}}},
{"data": {"name": "mask"}, "transform": [{"filter": "datum.m === 'PMA'"}], "mark": {"type": "rect", "clip": true},
 "encoding": {"x": {"field": "s", "type": "quantitative"}, "x2": {"field": "e"}, "y": {"datum": 0, "type": "quantitative"}, "y2": {"datum": 1.1}, "color": {"datum": "PMA mask", "type": "nominal"}}},
{"data": {"name": "mask"}, "transform": [{"filter": "datum.m === 'both'"}], "mark": {"type": "rect", "clip": true, "color": "#7A95CA"},
 "encoding": {"x": {"field": "s", "type": "quantitative"}, "x2": {"field": "e"}, "y": {"datum": 0, "type": "quantitative"}, "y2": {"datum": 1.1}}},
{"data": {"name": "rh"}, "mark": {"type": "line", "clip": true, "strokeWidth": 1.1},
 "encoding": {"x": {"field": "x", "type": "quantitative"}, "y": {"field": "v", "type": "quantitative"}, "color": {"datum": "(RH-90)/10", "type": "nominal"}}},
{"data": {"name": "lwc"}, "mark": {"type": "line", "clip": true, "strokeWidth": 3.5},
 "encoding": {"x": {"field": "x", "type": "quantitative"}, "y": {"field": "v", "type": "quantitative"}, "color": {"datum": "4*LWC", "type": "nominal"}}},
{"data": {"name": "rcf"}, "mark": {"type": "line", "clip": true, "strokeWidth": 3.5},
 "encoding": {"x": {"field": "x", "type": "quantitative"}, "y": {"field": "v", "type": "quantitative"}, "color": {"datum": "RH winCF", "type": "nominal"}}},
{"data": {"name": "pcf"}, "mark": {"type": "line", "clip": true, "strokeWidth": 3.5},
 "encoding": {"x": {"field": "x", "type": "quantitative"}, "y": {"field": "v", "type": "quantitative"}, "color": {"datum": "PMA winCF", "type": "nominal"}}}
]
},
{
"width": 1249, "height": 365,
"layer": [
{"data": {"name": "mask"}, "transform": [{"filter": "datum.m === 'RH'"}], "mark": {"type": "rect", "clip": true},
 "encoding": {
  "x": {"field": "s", "type": "quantitative", "scale": {"domain": [26, 36], "nice": false, "zero": false}, "axis": {"title": "Distance [km]", "values": [26,27,28,29,30,31,32,33,34,35,36], "format": "d", "labelPadding": 13, "grid": true}}, "x2": {"field": "e"},
  "y": {"datum": 0, "type": "quantitative", "scale": {"domain": [0, 1.1], "nice": false, "zero": false}, "axis": {"title": null, "values": [0,0.2,0.4,0.6,0.8,1], "format": "~g", "labelPadding": 8, "grid": true}}, "y2": {"datum": 1.1},
  "color": {"datum": "RH mask", "type": "nominal",
    "scale": {"domain": ["RH/10-90","4*LWC","RH mask","PMA mask","RH winCF","PMA winCF"], "range": ["#7E2F8E","#0072BD","#CBACD2","#99C7E5","#D95319","#77AC30"]},
    "legend": {"orient": "none", "legendX": 15, "legendY": 14, "title": null}}}},
{"data": {"name": "mask"}, "transform": [{"filter": "datum.m === 'PMA'"}], "mark": {"type": "rect", "clip": true},
 "encoding": {"x": {"field": "s", "type": "quantitative"}, "x2": {"field": "e"}, "y": {"datum": 0, "type": "quantitative"}, "y2": {"datum": 1.1}, "color": {"datum": "PMA mask", "type": "nominal"}}},
{"data": {"name": "mask"}, "transform": [{"filter": "datum.m === 'both'"}], "mark": {"type": "rect", "clip": true, "color": "#7A95CA"},
 "encoding": {"x": {"field": "s", "type": "quantitative"}, "x2": {"field": "e"}, "y": {"datum": 0, "type": "quantitative"}, "y2": {"datum": 1.1}}},
{"data": {"name": "rh"}, "mark": {"type": "line", "clip": true, "strokeWidth": 1.1},
 "encoding": {"x": {"field": "x", "type": "quantitative"}, "y": {"field": "v", "type": "quantitative"}, "color": {"datum": "RH/10-90", "type": "nominal"}}},
{"data": {"name": "lwc"}, "mark": {"type": "line", "clip": true, "strokeWidth": 3.5},
 "encoding": {"x": {"field": "x", "type": "quantitative"}, "y": {"field": "v", "type": "quantitative"}, "color": {"datum": "4*LWC", "type": "nominal"}}},
{"data": {"name": "rcf"}, "mark": {"type": "line", "clip": true, "strokeWidth": 3.5},
 "encoding": {"x": {"field": "x", "type": "quantitative"}, "y": {"field": "v", "type": "quantitative"}, "color": {"datum": "RH winCF", "type": "nominal"}}},
{"data": {"name": "pcf"}, "mark": {"type": "line", "clip": true, "strokeWidth": 3.5},
 "encoding": {"x": {"field": "x", "type": "quantitative"}, "y": {"field": "v", "type": "quantitative"}, "color": {"datum": "PMA winCF", "type": "nominal"}}}
]
}
]
}
